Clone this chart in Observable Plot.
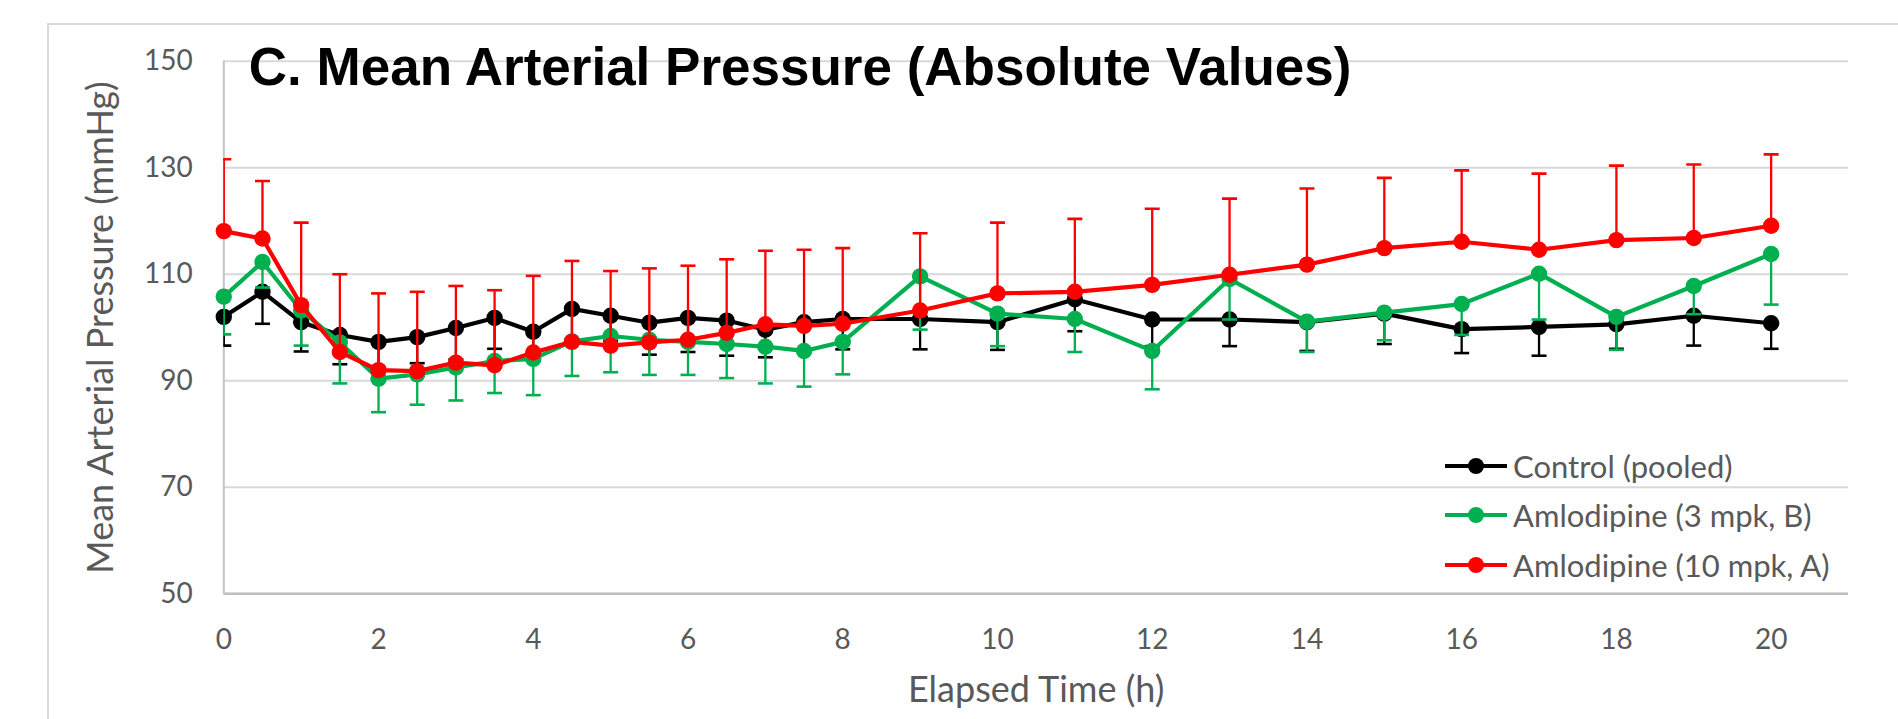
<!DOCTYPE html>
<html><head><meta charset="utf-8">
<script src="https://cdn.jsdelivr.net/npm/d3@7"></script>
<script src="https://cdn.jsdelivr.net/npm/@observablehq/plot@0.6"></script>
<style>
html,body{margin:0;padding:0;background:#fff;overflow:hidden;width:1898px;height:719px}
#wrap{position:relative;width:1898px;height:719px;overflow:hidden}
#frame{position:absolute;left:47px;top:23px;width:2000px;height:1000px;border:2px solid #d9d9d9;box-sizing:border-box}
#chart{position:absolute;left:0;top:0}
#legend{position:absolute;left:1445px;top:446px;font-family:Lato,sans-serif;font-size:31px;color:#595959}
.row{position:absolute;left:0;display:flex;align-items:center;white-space:nowrap;height:40px}
.row span{margin-left:6px}
</style></head><body>
<div id="wrap"><div id="frame"></div><div id="chart"></div><div id="legend"></div></div>
<script>
const hours = [0,0.5,1,1.5,2,2.5,3,3.5,4,4.5,5,5.5,6,6.5,7,7.5,8,9,10,11,12,13,14,15,16,17,18,19,20];
const control      = [102.0,106.7,101.0,98.6,97.3,98.2,99.9,101.8,99.2,103.5,102.2,100.9,101.8,101.3,99.6,101.0,101.6,101.6,101.0,105.3,101.5,101.5,101.0,102.6,99.7,100.1,100.6,102.2,100.8];
const controlLower = [96.6,100.7,95.5,93.1,92.5,93.3,94.0,96.0,95.3,97.5,97.5,94.9,95.4,94.7,94.4,95.8,95.9,95.9,95.8,99.3,96.5,96.5,95.6,96.9,95.2,94.7,96.0,96.6,96.0];
const amlo3        = [105.8,112.3,103.2,97.2,90.4,91.2,92.5,93.7,94.1,97.4,98.4,97.7,97.3,96.9,96.4,95.6,97.3,109.6,102.6,101.6,95.6,109.1,101.1,102.8,104.4,110.1,102.0,107.8,113.8];
const amlo3Lower   = [98.7,107.5,96.6,89.5,84.1,85.5,86.3,87.7,87.3,90.9,91.6,91.1,91.1,90.5,89.5,88.9,91.2,99.6,96.5,95.4,88.4,101.5,95.4,97.6,98.6,101.5,95.8,102.5,104.3];
const amlo10       = [118.1,116.7,104.2,95.4,92.0,91.8,93.4,92.9,95.3,97.3,96.6,97.2,97.7,99.0,100.6,100.3,100.7,103.2,106.4,106.7,108.0,109.9,111.8,114.9,116.1,114.6,116.4,116.8,119.1];
const amlo10Upper  = [131.6,127.5,119.7,110.0,106.4,106.7,107.8,107.0,109.7,112.5,110.6,111.1,111.6,112.8,114.4,114.6,114.9,117.7,119.7,120.4,122.3,124.2,126.1,128.1,129.5,128.9,130.4,130.6,132.5];
const seriesNames  = ["Control (pooled)","Amlodipine (3 mpk, B)","Amlodipine (10 mpk, A)"];
const seriesColors = ["#000000","#00B050","#FF0000"];
const yTicks = [50,70,90,110,130,150];
const xTicks = [0,2,4,6,8,10,12,14,16,18,20];
const titleText = "C. Mean Arterial Pressure (Absolute Values)";
const xLabel = "Elapsed Time (h)";
const yLabel = "Mean Arterial Pressure (mmHg)";

const seriesValues = [control, amlo3, amlo10];
const seriesBounds = [controlLower, amlo3Lower, amlo10Upper];

const capSymbol = {draw(ctx, size){ const h = Math.sqrt(size/Math.PI); ctx.moveTo(-h,0); ctx.lineTo(h,0); }};

const seriesMarks = [];
seriesNames.forEach((name, s) => {
  const rows = hours.map((h, i) => ({h, v: seriesValues[s][i], b: seriesBounds[s][i]}));
  const c = seriesColors[s];
  seriesMarks.push(
    Plot.ruleX(rows, {x: "h", y1: "v", y2: "b", stroke: c, strokeWidth: 2.3, clip: true}),
    Plot.dot(rows, {x: "h", y: "b", symbol: capSymbol, r: 7.5, stroke: c, strokeWidth: 2.6, fill: "none", clip: true}),
    Plot.line(rows, {x: "h", y: "v", stroke: c, strokeWidth: 4.2}),
    Plot.dot(rows, {x: "h", y: "v", r: 8.2, fill: c, stroke: "none"})
  );
});

const chart = Plot.plot({
  width: 1898, height: 719,
  marginLeft: 223.3, marginRight: 50, marginTop: 60.7, marginBottom: 125.7,
  style: {fontFamily: "Lato, sans-serif", fontSize: "28px", color: "#595959", background: "transparent", overflow: "visible"},
  x: {domain: [0, 21]},
  y: {domain: [50, 150]},
  marks: [
    Plot.gridY(yTicks, {stroke: "#d9d9d9", strokeOpacity: 1, strokeWidth: 2}),
    Plot.ruleX([0], {stroke: "#c4c4c4", strokeWidth: 2}),
    Plot.ruleY([50], {stroke: "#bfbfbf", strokeWidth: 2.5}),
    Plot.axisY(yTicks, {tickSize: 0, tickPadding: 31, label: null, fontSize: 28}),
    Plot.axisX(xTicks, {tickSize: 0, tickPadding: 35, label: null, fontSize: 28}),
    ...seriesMarks,
    Plot.text([titleText], {frameAnchor: "top-left", dx: 25, dy: 24, lineAnchor: "bottom", textAnchor: "start", fontSize: 53, fontWeight: "bold", fontFamily: "'Liberation Sans', Arial, sans-serif", fill: "#000"}),
    Plot.text([xLabel], {frameAnchor: "bottom", dy: 97, lineAnchor: "middle", textAnchor: "middle", fontSize: 36, fill: "#595959"}),
    Plot.text([yLabel], {frameAnchor: "left", dx: -122, rotate: -90, lineAnchor: "middle", textAnchor: "middle", fontSize: 36, fill: "#595959"})
  ]
});
document.getElementById("chart").appendChild(chart);

const legend = document.getElementById("legend");
seriesNames.forEach((name, i) => {
  const row = document.createElement("div");
  row.className = "row";
  row.style.top = (i * 49.3) + "px";
  const ns = "http://www.w3.org/2000/svg";
  const sw = document.createElementNS(ns, "svg");
  sw.setAttribute("width", 62); sw.setAttribute("height", 20);
  const ln = document.createElementNS(ns, "line");
  ln.setAttribute("x1", 0); ln.setAttribute("x2", 62); ln.setAttribute("y1", 10); ln.setAttribute("y2", 10);
  ln.setAttribute("stroke", seriesColors[i]); ln.setAttribute("stroke-width", 4);
  const ci = document.createElementNS(ns, "circle");
  ci.setAttribute("cx", 31); ci.setAttribute("cy", 10); ci.setAttribute("r", 8); ci.setAttribute("fill", seriesColors[i]);
  sw.appendChild(ln); sw.appendChild(ci);
  const sp = document.createElement("span");
  sp.textContent = name;
  row.appendChild(sw); row.appendChild(sp);
  legend.appendChild(row);
});
</script>
</body></html>
